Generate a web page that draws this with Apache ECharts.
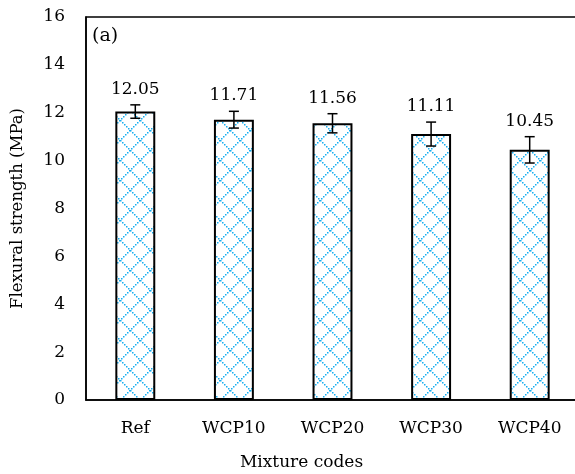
<!DOCTYPE html>
<html>
<head>
<meta charset="utf-8">
<script src="https://cdn.jsdelivr.net/npm/echarts@6/dist/echarts.min.js"></script>
<style>
html,body{margin:0;padding:0;background:#fff;}
#chart{width:575px;height:474px;}
</style>
</head>
<body>
<div id="chart"></div>
<script>
var categories = ['Ref', 'WCP10', 'WCP20', 'WCP30', 'WCP40'];
var values = [12.05, 11.71, 11.56, 11.11, 10.45];
var errors = [0.28, 0.35, 0.40, 0.50, 0.55];
var yTicks = [0, 2, 4, 6, 8, 10, 12, 14, 16];

var FONT = 'DejaVu Serif';

function makePattern() {
  var c = document.createElement('canvas');
  c.width = 20; c.height = 20;
  var ctx = c.getContext('2d');
  ctx.fillStyle = '#ffffff';
  ctx.fillRect(0, 0, 20, 20);
  ctx.fillStyle = '#18aef0';
  for (var i = 0; i < 20; i++) {
    if (i % 2 === 0) {
      ctx.fillRect(i, i, 1.5, 1.5);
      ctx.fillRect(19 - i, i, 1.5, 1.5);
    }
  }
  return c;
}

var chart = echarts.init(document.getElementById('chart'), null, {renderer: 'canvas'});

var errData = values.map(function (v, i) { return [i, v, errors[i]]; });

var option = {
  animation: false,
  backgroundColor: '#ffffff',
  grid: {left: 86, top: 17, right: -4, bottom: 74, containLabel: false, outerBoundsMode: 'none',
    show: true, borderColor: '#000', borderWidth: 1.5, backgroundColor: 'transparent'},
  xAxis: {
    type: 'category',
    data: categories,
    axisLine: {show: true, lineStyle: {color: '#000', width: 1.5}},
    axisTick: {show: false},
    axisLabel: {color: '#000', fontFamily: FONT, fontSize: 17, margin: 20},
    name: 'Mixture codes',
    nameLocation: 'middle',
    nameGap: 54,
    nameTextStyle: {color: '#000', fontFamily: FONT, fontSize: 17, padding: [0, 62, 0, 0]}
  },
  yAxis: {
    type: 'value',
    min: 0, max: 16, interval: 2,
    axisLine: {show: true, lineStyle: {color: '#000', width: 1.5}},
    axisTick: {show: false},
    splitLine: {show: false},
    axisLabel: {color: '#000', fontFamily: FONT, fontSize: 17, margin: 21,
      formatter: function (v) { return yTicks.indexOf(v) >= 0 ? String(v) : ''; }},
    name: 'Flexural strength (MPa)',
    nameLocation: 'middle',
    nameGap: 60,
    nameTextStyle: {color: '#000', fontFamily: FONT, fontSize: 16.5}
  },
  graphic: [{
    type: 'text', left: 92, top: 27,
    style: {text: '(a)', fill: '#000', font: '19px "' + FONT + '"'}
  }],
  series: [{
    type: 'bar',
    data: values,
    barWidth: '40.5%',
    itemStyle: {
      color: {image: makePattern(), repeat: 'repeat'},
      borderColor: '#000',
      borderWidth: 2
    }
  }, {
    type: 'custom',
    data: errData,
    z: 10,
    renderItem: function (params, api) {
      var x = api.value(0), v = api.value(1), e = api.value(2);
      var top = api.coord([x, v + e]);
      var bot = api.coord([x, v - e]);
      var hw = 5;
      var ls = {stroke: '#000', lineWidth: 1.5};
      return {
        type: 'group',
        children: [
          {type: 'line', shape: {x1: top[0], y1: top[1], x2: bot[0], y2: bot[1]}, style: ls},
          {type: 'line', shape: {x1: top[0] - hw, y1: top[1], x2: top[0] + hw, y2: top[1]}, style: ls},
          {type: 'line', shape: {x1: bot[0] - hw, y1: bot[1], x2: bot[0] + hw, y2: bot[1]}, style: ls},
          {type: 'text', style: {text: v.toFixed(2), x: top[0], y: top[1] - 7, textAlign: 'center', textVerticalAlign: 'bottom', fill: '#000', font: '17px "' + FONT + '"'}}
        ]
      };
    }
  }]
};
chart.setOption(option);
</script>
</body>
</html>
